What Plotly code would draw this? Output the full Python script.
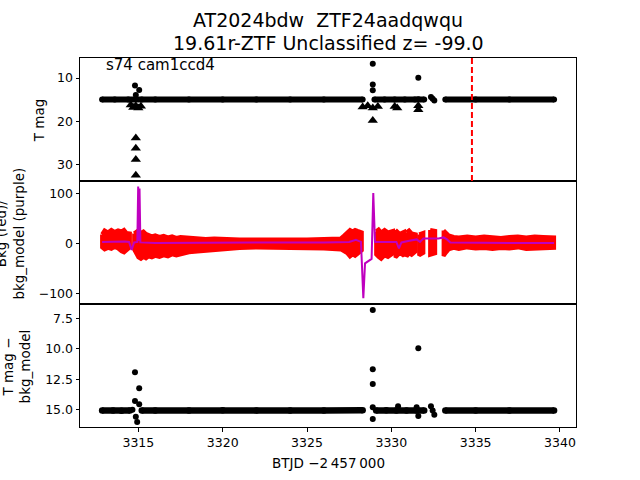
import plotly.graph_objects as go

# ---------------- data ----------------
x_range = [3311.54, 3340.95]
discovery_btjd = 3334.78

# Panel 1: T mag (dense light-curve band, segments separated by None)
tmag_band_x = [3312.85, 3313.6, 3314.4, 3315.2, 3316.0, 3318.0, 3320.0, 3322.0, 3324.0, 3326.0, 3328.3, None,
               3329.0, 3329.6, 3330.2, 3330.8, 3331.4, 3331.95, None,
               3333.2, 3335.0, 3337.0, 3339.65]
tmag_band_y = [14.95, 14.93, 14.97, 14.95, 14.94, 14.95, 14.96, 14.95, 14.94, 14.95, 14.96, None,
               14.95, 14.97, 14.94, 14.96, 14.95, 14.95, None,
               14.95, 14.94, 14.95, 14.95]
tmag_pts_x = [3314.8, 3315.05, 3314.85, 3328.9, 3328.9, 3328.9, 3331.6, 3332.35, 3332.45, 3332.55, 3331.6]
tmag_pts_y = [11.7, 12.75, 13.9, 6.67, 11.5, 12.8, 9.9, 14.4, 14.8, 15.2, 14.9]
# upper limits (triangles)
lim_x = [3314.55, 3314.7, 3314.85, 3315.0, 3315.15, 3314.85, 3314.85, 3314.85, 3314.85,
         3328.3, 3328.6, 3328.9, 3329.2, 3328.9, 3330.2, 3330.35, 3331.6, 3331.6]
lim_y = [16.2, 16.8, 16.4, 16.9, 16.5, 23.85, 26.2, 28.85, 32.45,
         16.7, 16.4, 16.9, 16.6, 19.8, 16.6, 16.9, 16.4, 17.3]

# Panel 2: background flux envelope (red) and background model (purple)
bkg_x = [3312.85, 3313.0, 3313.2, 3313.4, 3313.6, 3313.8, 3314.0, 3314.15, 3314.3, 3314.5, None,
         3314.75, 3315.0, 3315.15, 3315.3, 3315.45, 3315.6, 3315.8, 3316.0, 3316.25, 3316.5, 3316.75,
         3317.0, 3317.25, 3317.5, 3318.0, 3318.5, 3319.0, 3319.5, 3320.0,
         3321.0, 3322.0, 3323.0, 3324.0, 3325.0, 3326.0, 3327.0, 3327.2, 3327.4, 3327.55, 3327.7, 3327.85,
         3328.0, 3328.25, None,
         3329.1, 3329.25, 3329.4, 3329.6, 3329.8, 3330.1, None,
         3330.25, 3330.5, 3330.75, None,
         3330.9, 3331.05, 3331.2, 3331.45, None,
         3331.65, 3331.9, None,
         3332.3, 3332.6, None,
         3333.1, 3333.25, 3333.4, 3333.7, 3334.0, 3334.5, 3335.0, 3335.5, 3336.0, 3336.5, 3337.0,
         3337.5, 3338.0, 3338.5, 3339.0, 3339.65]
bkg_hi = [18, 26, 22, 27, 23, 26, 24, 27, 21, 20, None,
          20, 26, 21, 24, 19, 17, 14, 16, 13, 15, 12,
          14, 11, 13, 11, 10, 9, 10, 9,
          8, 8, 9, 8, 8, 9, 10, 16, 22, 27, 24, 27,
          25, 22, None,
          24, 28, 22, 27, 22, 25, None,
          27, 19, 23, None,
          22, 26, 20, 18, None,
          18, 21, None,
          27, 25, None,
          26, 20, 16, 13, 12, 14, 12, 14, 13, 11, 13,
          14, 12, 14, 13, 12]
bkg_lo = [-8, -12, -9, -11, -7, -10, -16, -18, -14, -8, None,
          -12, -28, -31, -27, -30, -26, -28, -25, -27, -24, -26,
          -22, -24, -21, -18, -16, -13, -12, -11,
          -9, -8, -8, -8, -9, -10, -12, -15, -20, -26, -22, -25,
          -20, -14, None,
          -22, -27, -31, -24, -27, -20, None,
          -28, -19, -25, None,
          -26, -20, -23, -16, None,
          -24, -19, None,
          -23, -20, None,
          -25, -18, -12, -9, -11, -8, -10, -9, -11, -9, -10,
          -8, -11, -9, -10, -9]
model_x = [3312.85, 3313.5, 3314.2, 3314.45, 3314.6, 3314.75, 3314.94, 3314.99, 3315.03, 3315.07, 3315.12,
           3316.0, 3318.0, 3320.0, 3322.0, 3324.0, 3326.0, 3327.5, 3327.9, 3328.05, 3328.2, 3328.34, 3328.44,
           3328.83, 3328.93, 3329.03, 3329.5, 3330.3, 3330.45, 3330.6, 3331.0, 3331.5, 3331.7, 3331.9,
           3332.4, 3332.8, 3333.1, 3333.3, 3333.5, 3335.0, 3337.0, 3339.65]
model_y = [3, 4, 4, 3, -13, 2, 3, 114, 5, 110, 2,
           1, 1, 1, 1, 1, 2, 3, 7, 5, 3, -110, -40,
           -31, 101, 3, 3, 3, -10, 2, 5, 8, 3, 10,
           10, 10, 12, 8, 2, 1, 1, 1]

# Panel 3: T mag - bkg_model
res_band_x = [3312.85, 3313.5, 3314.0, 3314.5, None,
              3315.2, 3316.0, 3318.0, 3320.0, 3322.0, 3324.0, 3326.0, 3328.3, None,
              3329.1, 3329.7, 3330.3, 3330.9, 3331.5, 3331.95, None,
              3333.2, 3335.0, 3337.0, 3339.65]
res_band_y = [15.06, 15.05, 15.07, 15.05, None,
              15.05, 15.06, 15.05, 15.04, 15.05, 15.06, 15.05, 15.04, None,
              15.05, 15.04, 15.06, 15.05, 15.05, 15.06, None,
              15.05, 15.05, 15.06, 15.05]
res_pts_x = [3314.8, 3315.05, 3314.8, 3315.05, 3314.85, 3314.93, 3314.65, 3328.9, 3328.9, 3328.9, 3328.9,
             3328.9, 3331.6, 3330.4, 3331.6, 3332.35, 3332.45, 3332.55, 3331.5]
res_pts_y = [11.93, 13.24, 14.28, 14.55, 15.57, 16.0, 15.0, 6.82, 11.68, 12.88, 14.8,
             15.75, 9.96, 14.7, 15.5, 14.7, 15.05, 15.4, 14.8]

title_line1 = "AT2024bdw\u00a0 ZTF24aadqwqu"
title_line2 = "19.61r-ZTF Unclassified z= -99.0"
sector_text = "s74 cam1ccd4"

# ---------------- figure ----------------
FONT = "DejaVu Sans"
fig = go.Figure()


def split(xs, *ys):
    segs, cur = [], []
    for i, x in enumerate(xs):
        if x is None:
            if cur:
                segs.append(cur)
            cur = []
        else:
            cur.append((x,) + tuple(y[i] for y in ys))
    if cur:
        segs.append(cur)
    return segs


# Panel 1
fig.add_trace(go.Scatter(x=tmag_band_x, y=tmag_band_y, mode="lines+markers",
                         line=dict(color="black", width=6), marker=dict(color="black", size=6),
                         xaxis="x", yaxis="y", hoverinfo="skip"))
fig.add_trace(go.Scatter(x=tmag_pts_x, y=tmag_pts_y, mode="markers",
                         marker=dict(color="black", size=6), xaxis="x", yaxis="y"))
fig.add_trace(go.Scatter(x=lim_x, y=lim_y, mode="markers",
                         marker=dict(color="black", size=9, symbol="triangle-up"), xaxis="x", yaxis="y"))

# Panel 2
for seg in split(bkg_x, bkg_hi, bkg_lo):
    xs = [s[0] for s in seg]
    hi = [s[1] for s in seg]
    lo = [s[2] for s in seg]
    fig.add_trace(go.Scatter(x=xs + xs[::-1] + [xs[0]], y=hi + lo[::-1] + [hi[0]], mode="lines",
                             fill="toself", fillcolor="#ff0000",
                             line=dict(color="#ff0000", width=4),
                             xaxis="x2", yaxis="y2", hoverinfo="skip"))
fig.add_trace(go.Scatter(x=model_x, y=model_y, mode="lines",
                         line=dict(color="#bf00bf", width=2), xaxis="x2", yaxis="y2"))

# Panel 3
fig.add_trace(go.Scatter(x=res_band_x, y=res_band_y, mode="lines+markers",
                         line=dict(color="black", width=6.5), marker=dict(color="black", size=6.5),
                         xaxis="x3", yaxis="y3", hoverinfo="skip"))
fig.add_trace(go.Scatter(x=res_pts_x, y=res_pts_y, mode="markers",
                         marker=dict(color="black", size=6), xaxis="x3", yaxis="y3"))

axis_common = dict(showline=True, linecolor="black", linewidth=1, mirror=True, showgrid=False,
                   zeroline=False, ticks="outside", ticklen=3.5, tickwidth=1, tickcolor="black",
                   tickfont=dict(family=FONT, size=12.5, color="black"))
axis_noticks = {k: v for k, v in axis_common.items() if k != "ticks"}

fig.update_layout(
    width=640, height=480,
    margin=dict(l=80, r=64, t=57.6, b=52.8),
    paper_bgcolor="white", plot_bgcolor="white",
    showlegend=False,
    font=dict(family=FONT, color="black"),
    xaxis=dict(range=x_range, anchor="y", domain=[0, 1], showticklabels=False, ticks="", **axis_noticks),
    xaxis2=dict(range=x_range, anchor="y2", domain=[0, 1], showticklabels=False, ticks="", **axis_noticks),
    xaxis3=dict(range=x_range, anchor="y3", domain=[0, 1], tickvals=[3315, 3320, 3325, 3330, 3335, 3340], **axis_common),
    yaxis=dict(range=[33.8, 5.36], domain=[2 / 3, 1], anchor="x", tickvals=[10, 20, 30], **axis_common),
    yaxis2=dict(range=[-121.4, 125], domain=[1 / 3, 2 / 3], anchor="x2", tickvals=[-100, 0, 100],
                ticktext=["\u2212100", "0", "100"], **axis_common),
    yaxis3=dict(range=[16.41, 6.33], domain=[0, 1 / 3], anchor="x3", tickvals=[7.5, 10.0, 12.5, 15.0],
                ticktext=["7.5", "10.0", "12.5", "15.0"], **axis_common),
)

fig.add_shape(type="line", xref="x", yref="y domain", x0=discovery_btjd, x1=discovery_btjd, y0=0, y1=1,
              line=dict(color="#ff0000", width=2, dash="6px,3px"))

PH = 369.6


def py(pix):
    return 1 + (57.6 - pix) / PH


def px(pix):
    return (pix - 80) / 496


ann = [
    dict(text=title_line1, x=px(328), y=py(20), font=dict(size=19)),
    dict(text=title_line2, x=px(328), y=py(43), font=dict(size=19)),
    dict(text=sector_text, x=px(104), y=py(65), xanchor="left", font=dict(size=15)),
    dict(text="T mag", x=px(39), y=py(120), textangle=-90, font=dict(size=13.5)),
    dict(text="Bkg (red)/<br>bkg_model (purple)", x=px(10.5), y=py(234), textangle=-90, font=dict(size=13.5)),
    dict(text="T mag \u2212<br>bkg_model", x=px(16.5), y=py(367), textangle=-90, font=dict(size=13.5)),
    dict(text="BTJD \u22122\u2009457\u2009000", x=px(328), y=py(463), font=dict(size=13.5)),
]
for a in ann:
    base = dict(xref="paper", yref="paper", showarrow=False, xanchor="center", yanchor="middle")
    base.update(a)
    base["font"] = dict(family=FONT, color="black", **a["font"])
    fig.add_annotation(**base)

fig.write_html("out.html")
